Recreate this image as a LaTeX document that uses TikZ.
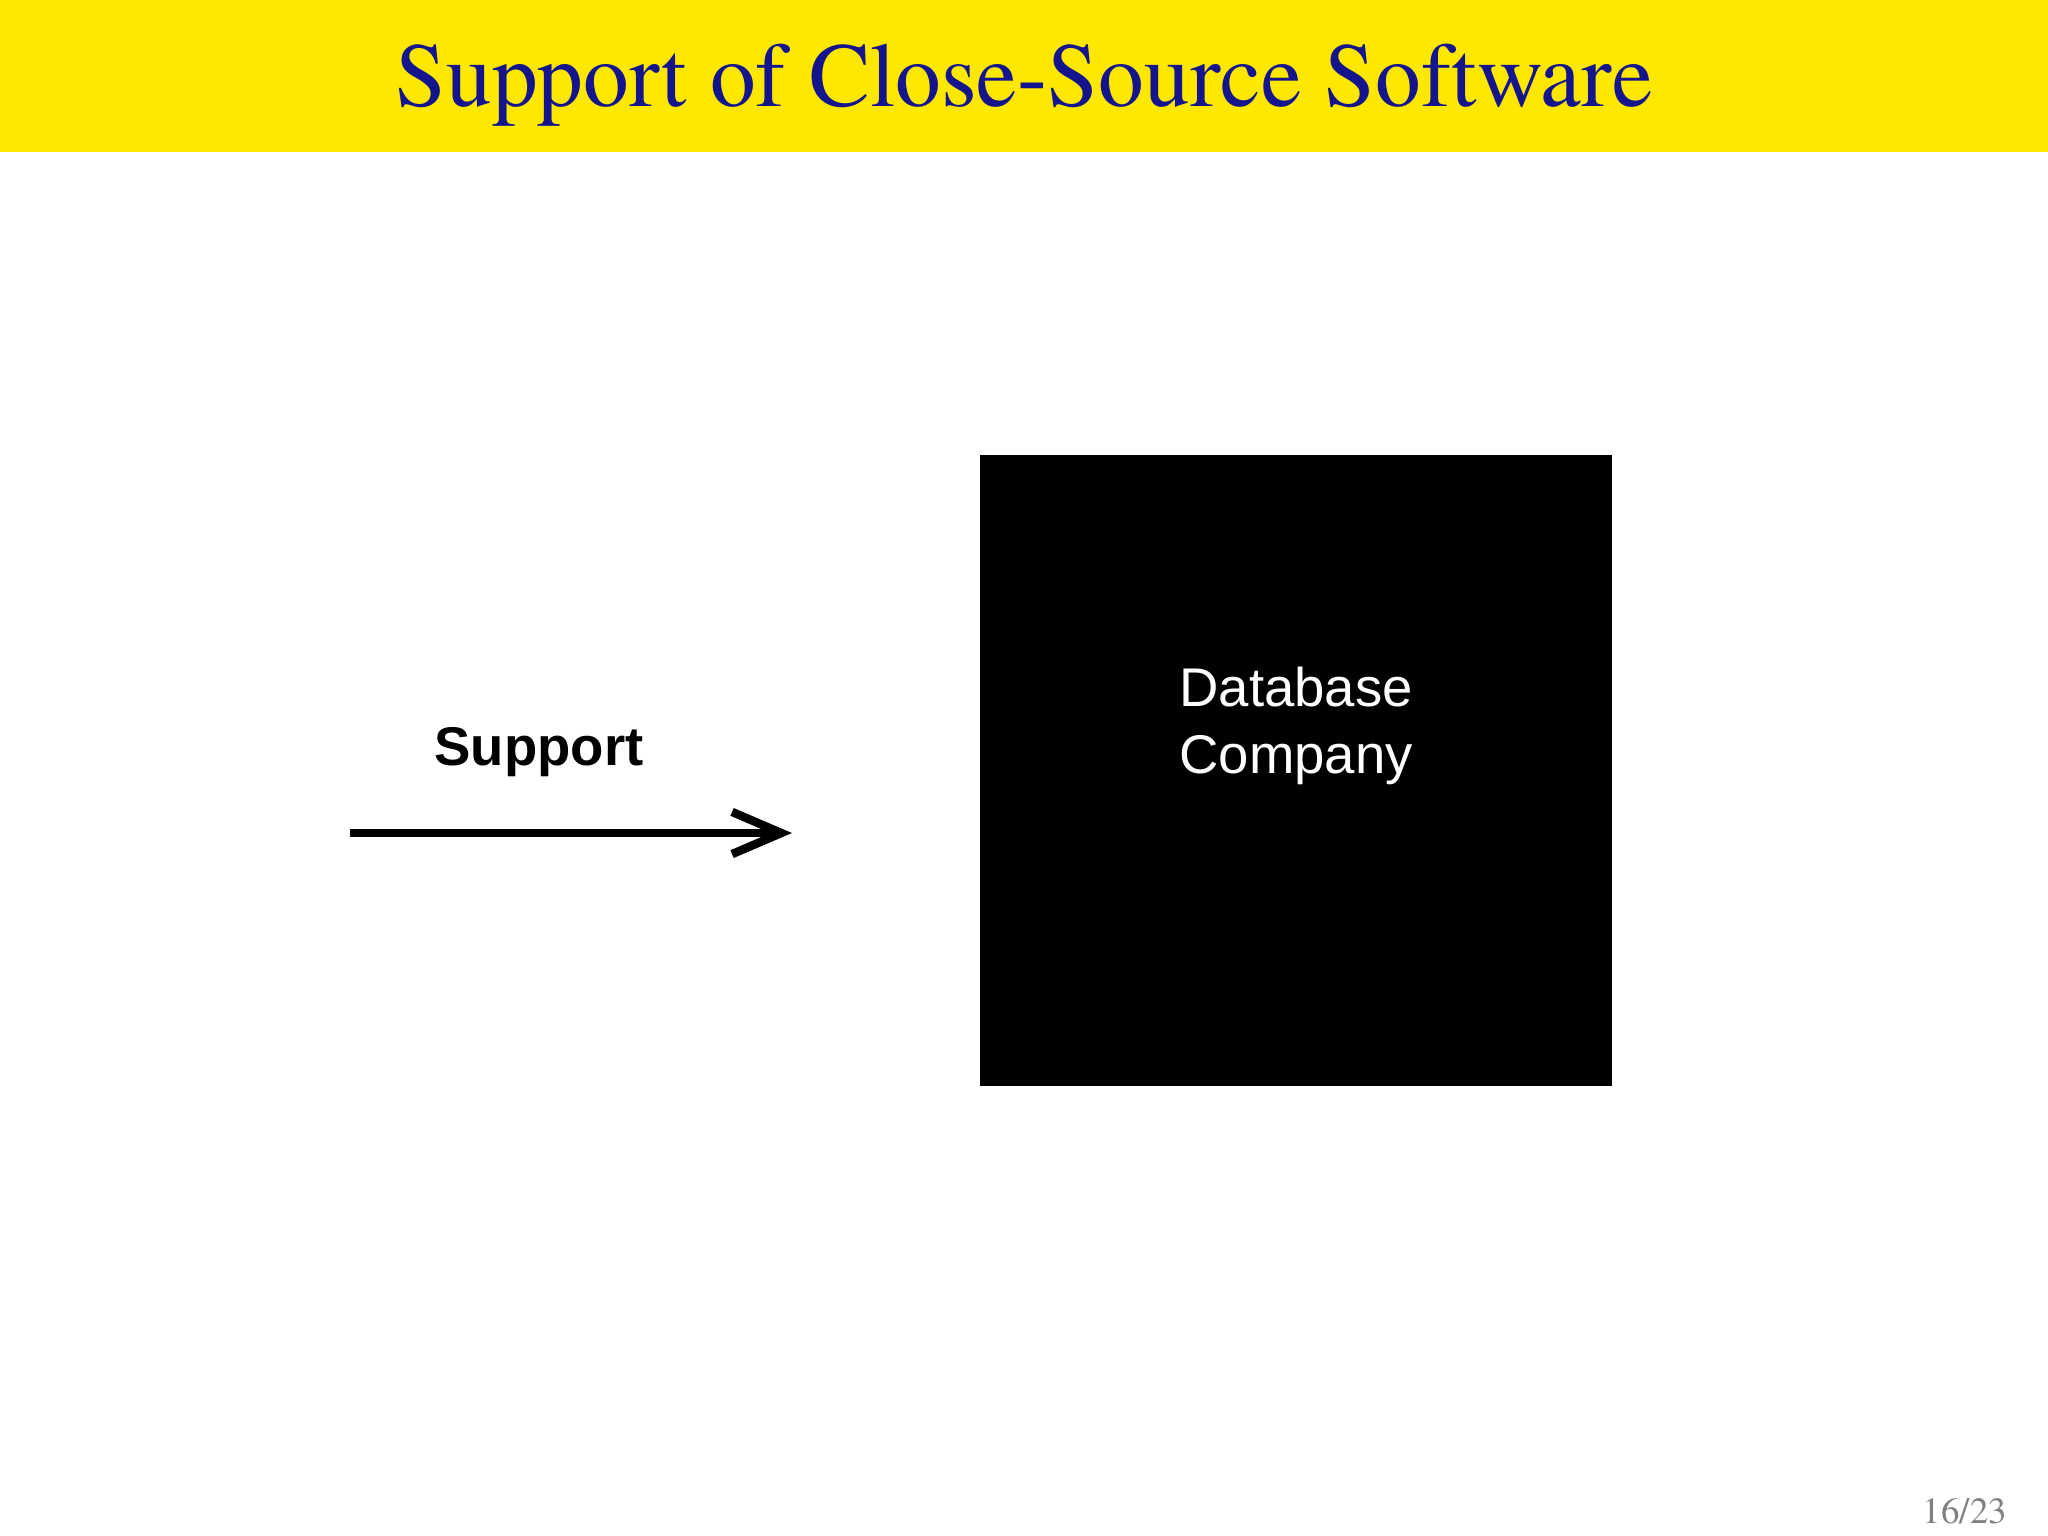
\documentclass[tikz,border=0pt]{standalone}
\usepackage{fontspec}
\setmainfont{TeX Gyre Termes}
\setsansfont{Liberation Sans}
\usetikzlibrary{arrows.meta}
\definecolor{bary}{HTML}{FFE800}
\definecolor{navy}{HTML}{14148C}
\begin{document}
\begin{tikzpicture}[x=0.01cm,y=-0.01cm,
  lbl/.style={font=\sffamily\fontsize{15.5}{19}\selectfont,align=center,inner sep=0}]
\useasboundingbox (0,0) rectangle (2048,1536);
\fill[white] (0,0) rectangle (2048,1536);
\fill[bary] (0,0) rectangle (2048,152);
\node[text=navy,font=\fontsize{26}{30}\selectfont] (title) at (1024,85) {Support of Close-Source Software};
\fill[black] (980,455) rectangle (1612,1086);
\node[lbl,text=white] (db) at (1296,726) {Database\\Company};
\coordinate (a0) at (350,833);
\coordinate (a1) at (792,833);
\draw[line width=2.4pt,-{Straight Barb[length=14pt,width=12pt,line width=2.4pt]}] (a0) -- (a1);
\node[lbl,font=\sffamily\bfseries\fontsize{15.5}{19}\selectfont] (sup) at (539,752) {Support};
\node[text=gray,font=\fontsize{10.5}{12}\selectfont] (pg) at (1965,1511) {16/23};
\end{tikzpicture}
\end{document}
